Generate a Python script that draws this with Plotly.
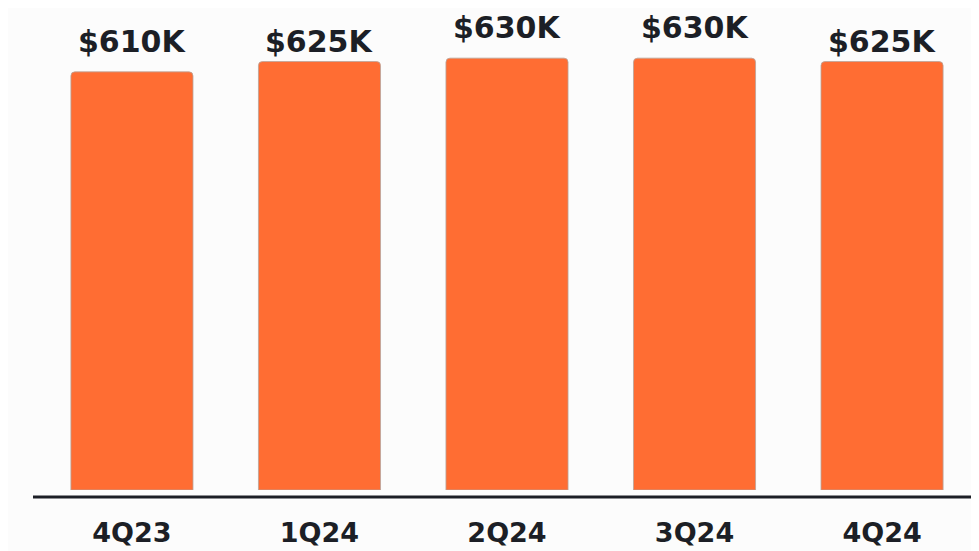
import plotly.graph_objects as go

quarters = ["4Q23", "1Q24", "2Q24", "3Q24", "4Q24"]
values_k = [610, 625, 630, 630, 625]
value_labels = ["$610K", "$625K", "$630K", "$630K", "$625K"]

# styling: vertical offset (px) of each value label above its bar
label_shift = [30, 20, 31, 31, 20]

BG = "#fcfcfc"
BAR = "#ff6d33"
INK = "#1c1f26"
FONT = "DejaVu Sans"

W, H = 971, 543  # page adds an 8px body margin
PLOT_H = 482

fig = go.Figure()
fig.add_trace(go.Bar(
    x=list(range(len(quarters))),
    y=values_k,
    width=0.651,
    marker=dict(color=BAR, line=dict(color="#b8a59c", width=0.8), cornerradius=4),
    hoverinfo="skip",
))

for i, (v, t) in enumerate(zip(values_k, value_labels)):
    fig.add_annotation(x=i, y=v, text=t, showarrow=False, yanchor="middle",
                       yshift=label_shift[i],
                       font=dict(family=FONT, size=30, color=INK, weight="bold"))

fig.add_shape(type="line", xref="paper", yref="paper", x0=25/W, x1=1,
              y0=-7/PLOT_H, y1=-7/PLOT_H, line=dict(color=INK, width=3))

fig.update_layout(
    width=W, height=H,
    margin=dict(l=0, r=0, t=0, b=H - PLOT_H),
    paper_bgcolor=BG, plot_bgcolor=BG,
    showlegend=False,
    xaxis=dict(range=[-0.661, 4.517], tickmode="array",
               tickvals=list(range(len(quarters))), ticktext=quarters,
               showgrid=False, zeroline=False, showline=False, ticks="",
               ticklabelstandoff=24,
               tickfont=dict(family=FONT, size=27, color=INK, weight="bold")),
    yaxis=dict(range=[0, PLOT_H / 0.6855], visible=False, showgrid=False, zeroline=False),
)

fig.write_html("out.html")
